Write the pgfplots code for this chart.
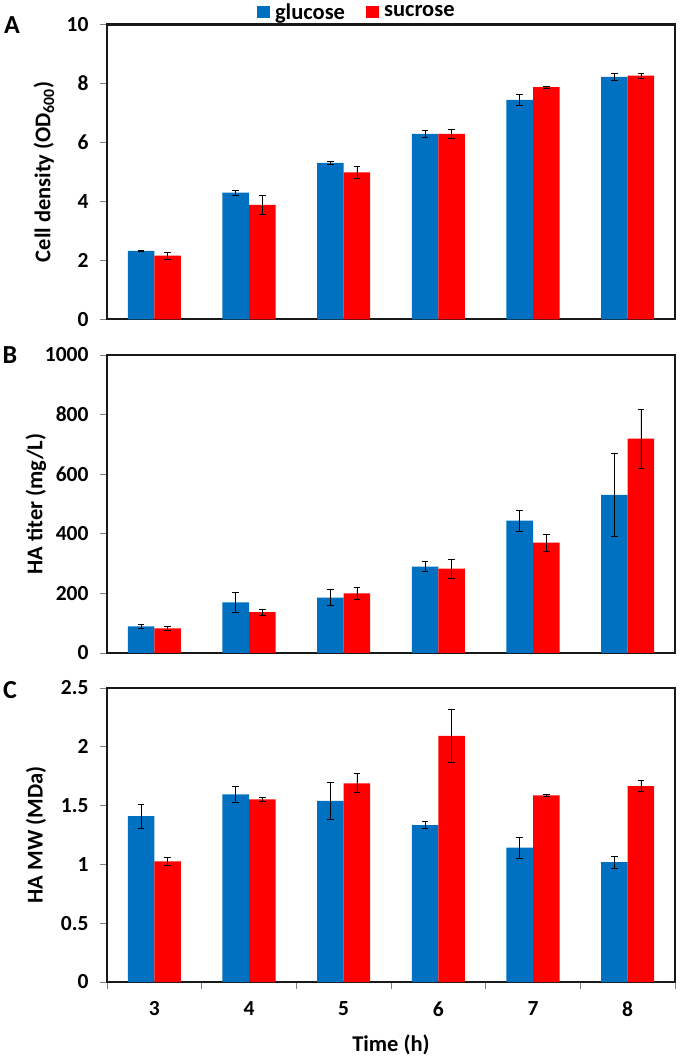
\documentclass[border=0pt]{standalone}
\usepackage{pgfplots}
\pgfplotsset{compat=1.18}
\usepackage{fontspec}
\setmainfont{Carlito}
\definecolor{cblue}{HTML}{0070C0}
\definecolor{cred}{HTML}{FF0000}
\pgfplotsset{
  panel/.style={
    width=568pt, scale only axis,
    xmin=0.5, xmax=6.5,
    ybar=0pt, bar width=0.28,
    axis line style={line width=2.4pt, black!90},
    tick align=outside, ytick pos=left, xtick pos=lower,
    major tick length=7pt,
    tick style={gray, line width=0.6pt},
    /pgf/number format/assume math mode=true,
    /pgf/number format/1000 sep={},
    ticklabel style={font=\fontsize{21.5}{21.5}\selectfont\bfseries},
    yticklabel style={xshift=-8pt},
    label style={font=\fontsize{22.5}{22.5}\selectfont\bfseries},
    enlarge x limits=false,
    error bars/y dir=both, error bars/y explicit,
    error bars/error bar style={black, line width=0.7pt},
    error bars/error mark options={rotate=90, mark size=3.3pt, black, line width=0.7pt},
  },
  gl/.style={fill=cblue, draw=none},
  su/.style={fill=cred, draw=none},
}
\begin{document}
\begin{tikzpicture}
\useasboundingbox (0pt,0pt) rectangle (680pt,1057pt);
% Panel A
\begin{axis}[panel, at={(107pt,737.7pt)}, anchor=south west, height=294.6pt,
  ymin=0, ymax=10, ytick={0,2,4,6,8,10}, xtick=\empty,
  ylabel={Cell density (OD\textsubscript{600})},
  ylabel style={at={(axis description cs:-0.111,0.5)}, anchor=center},
  legend columns=2,
  legend style={draw=none, fill=none, at={(axis description cs:0.439,1.043)}, anchor=center,
    font=\fontsize{22.5}{22.5}\selectfont\bfseries, column sep=4pt,
    nodes={inner sep=1pt}},
  legend image code/.code={\fill[#1,draw=none] (0pt,-6pt) rectangle (13pt,6pt);},
]
\addplot[gl] table[x=x,y=y,y error=e] {
x y e
1 2.32 0.02
2 4.30 0.08
3 5.31 0.05
4 6.29 0.12
5 7.45 0.20
6 8.23 0.12
};
\addlegendentry{glucose\rule{16pt}{0pt}}
\addplot[su] table[x=x,y=y,y error=e] {
x y e
1 2.16 0.12
2 3.88 0.32
3 4.99 0.19
4 6.29 0.15
5 7.88 0.03
6 8.27 0.09
};
\addlegendentry{sucrose}
\end{axis}
% Panel B
\begin{axis}[panel, at={(107pt,404pt)}, anchor=south west, height=298pt,
  ymin=0, ymax=1000, ytick={0,200,400,600,800,1000}, xtick=\empty,
  ylabel={HA titer (mg/L)},
  ylabel style={at={(axis description cs:-0.125,0.5)}, anchor=center},
]
\addplot[gl] table[x=x,y=y,y error=e] {
x y e
1 89 7
2 170 32
3 186 27
4 290 16
5 444 35
6 531 140
};
\addplot[su] table[x=x,y=y,y error=e] {
x y e
1 83 6
2 137 11
3 200 19
4 283 31
5 370 29
6 719 99
};
\end{axis}
% Panel C
\begin{axis}[panel, at={(107pt,75pt)}, anchor=south west, height=294pt,
  ymin=0, ymax=2.5, ytick={0,0.5,1,1.5,2,2.5},
  xtick={0.5,1.5,2.5,3.5,4.5,5.5,6.5}, x tick label as interval,
  xticklabels={3,4,5,6,7,8},
  xticklabel style={yshift=-9pt},
  ylabel={HA MW (MDa)},
  ylabel style={at={(axis description cs:-0.125,0.5)}, anchor=center},
  xlabel={Time (h)},
  xlabel style={at={(axis description cs:0.5,-0.2143)}, anchor=center},
]
\addplot[gl] table[x=x,y=y,y error=e] {
x y e
1 1.41 0.10
2 1.595 0.07
3 1.54 0.157
4 1.333 0.03
5 1.142 0.09
6 1.019 0.05
};
\addplot[su] table[x=x,y=y,y error=e] {
x y e
1 1.025 0.037
2 1.552 0.02
3 1.69 0.08
4 2.093 0.222
5 1.586 0.006
6 1.666 0.045
};
\end{axis}
\node[font=\fontsize{26}{26}\selectfont\bfseries] at (12pt,1032pt) {A};
\node[font=\fontsize{26}{26}\selectfont\bfseries] at (10pt,702pt) {B};
\node[font=\fontsize{26}{26}\selectfont\bfseries] at (10pt,367pt) {C};
\end{tikzpicture}
\end{document}
